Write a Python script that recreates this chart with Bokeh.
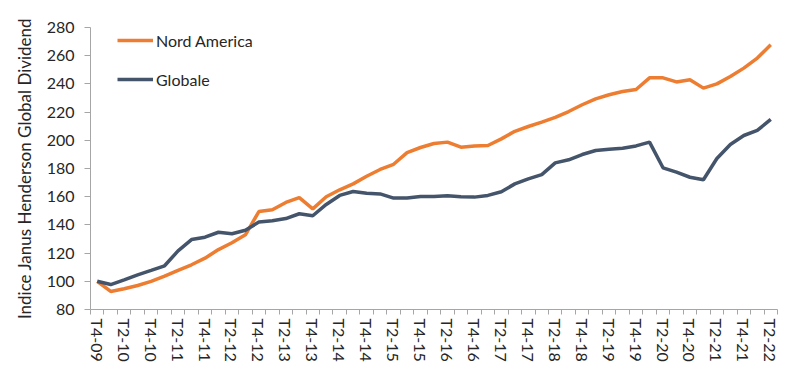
from bokeh.plotting import figure
from bokeh.models import FixedTicker, Range1d, Legend, LegendItem
from bokeh.embed import file_html
from bokeh.resources import INLINE

quarters = []
for y in range(2009, 2023):
    for q in range(1, 5):
        if (y == 2009 and q < 4) or (y == 2022 and q > 2):
            continue
        quarters.append(f"T{q}-{str(y)[2:]}")

nord_america = [100.0, 92.8, 94.7, 97.0, 99.9, 103.6, 107.7, 111.7, 116.4, 122.5,
                127.3, 133.0, 149.5, 150.7, 155.9, 159.4, 151.4, 160.0, 164.9, 169.1,
                174.5, 179.3, 183.0, 191.3, 194.9, 197.7, 198.7, 195.1, 196.0, 196.3,
                201.0, 206.4, 209.8, 212.9, 216.2, 220.4, 225.2, 229.4, 232.3, 234.6,
                236.0, 244.3, 244.3, 241.4, 243.0, 237.0, 240.0, 245.2, 251.2, 258.3,
                267.7]
globale = [100.0, 97.7, 101.0, 104.6, 107.7, 111.0, 121.6, 129.6, 131.3, 134.8,
           133.7, 136.2, 142.0, 142.9, 144.5, 147.9, 146.5, 154.5, 160.9, 163.7,
           162.5, 162.0, 159.0, 159.0, 160.1, 160.1, 160.6, 159.9, 159.7, 160.9,
           163.5, 169.1, 172.6, 175.7, 184.0, 186.2, 189.9, 192.8, 193.7, 194.4,
           196.0, 198.7, 180.5, 177.4, 173.8, 172.0, 187.1, 197.0, 203.4, 207.0,
           214.8]
y_ticks = [80, 100, 120, 140, 160, 180, 200, 220, 240, 260, 280]

x = list(range(len(quarters)))
FONT = "Lato"
TXT = "#262626"
AX = "#a6a6a6"

p = figure(width=800, height=372, output_backend="svg", toolbar_location=None,
           x_range=Range1d(-0.5, len(quarters) - 0.5), y_range=Range1d(80, 280),
           min_border_left=90, min_border_top=27, min_border_bottom=63, min_border_right=23)
p.outline_line_color = None
p.xgrid.grid_line_color = None
p.ygrid.grid_line_color = None

r1 = p.line(x, nord_america, line_color="#ED7D31", line_width=3.5)
r2 = p.line(x, globale, line_color="#44546A", line_width=3.5)

# x axis
p.xaxis.ticker = FixedTicker(ticks=[i for i in x if i % 2 == 0],
                             minor_ticks=[i - 0.5 for i in range(len(quarters) + 1)])
p.xaxis.major_label_overrides = {i: quarters[i] for i in x if i % 2 == 0}
p.xaxis.major_label_orientation = "vertical"
p.xaxis.major_tick_line_color = None
p.xaxis.major_tick_out = 5
p.xaxis.major_tick_in = 0
p.xaxis.minor_tick_out = 5
p.xaxis.minor_tick_in = 0
p.xaxis.minor_tick_line_color = AX
p.xaxis.axis_line_color = AX
p.xaxis.major_label_standoff = 4

# y axis
p.yaxis.ticker = FixedTicker(ticks=y_ticks)
p.yaxis.minor_tick_line_color = None
p.yaxis.major_tick_out = 6
p.yaxis.major_tick_in = 0
p.yaxis.major_tick_line_color = AX
p.yaxis.axis_line_color = AX
p.yaxis.major_label_standoff = 10
p.yaxis.axis_label = "Indice Janus Henderson Global Dividend"
p.yaxis.axis_label_text_font_style = "normal"
p.yaxis.axis_label_text_font_size = "17px"
p.yaxis.axis_label_text_font = FONT
p.yaxis.axis_label_text_color = TXT
p.yaxis.axis_label_standoff = 9

for ax in (p.xaxis, p.yaxis):
    ax.major_label_text_font = FONT
    ax.major_label_text_font_size = "16px"
    ax.major_label_text_color = TXT

legend = Legend(items=[LegendItem(label="Nord America", renderers=[r1]),
                       LegendItem(label="Globale", renderers=[r2])],
                location=(27, 220), orientation="vertical",
                glyph_width=36, glyph_height=20, label_height=20, spacing=19,
                label_standoff=3, padding=0, margin=0,
                background_fill_alpha=0, border_line_color=None,
                label_text_font=FONT, label_text_font_size="16px", label_text_color=TXT)
p.add_layout(legend)

open("out.html", "w").write(file_html(p, INLINE))
